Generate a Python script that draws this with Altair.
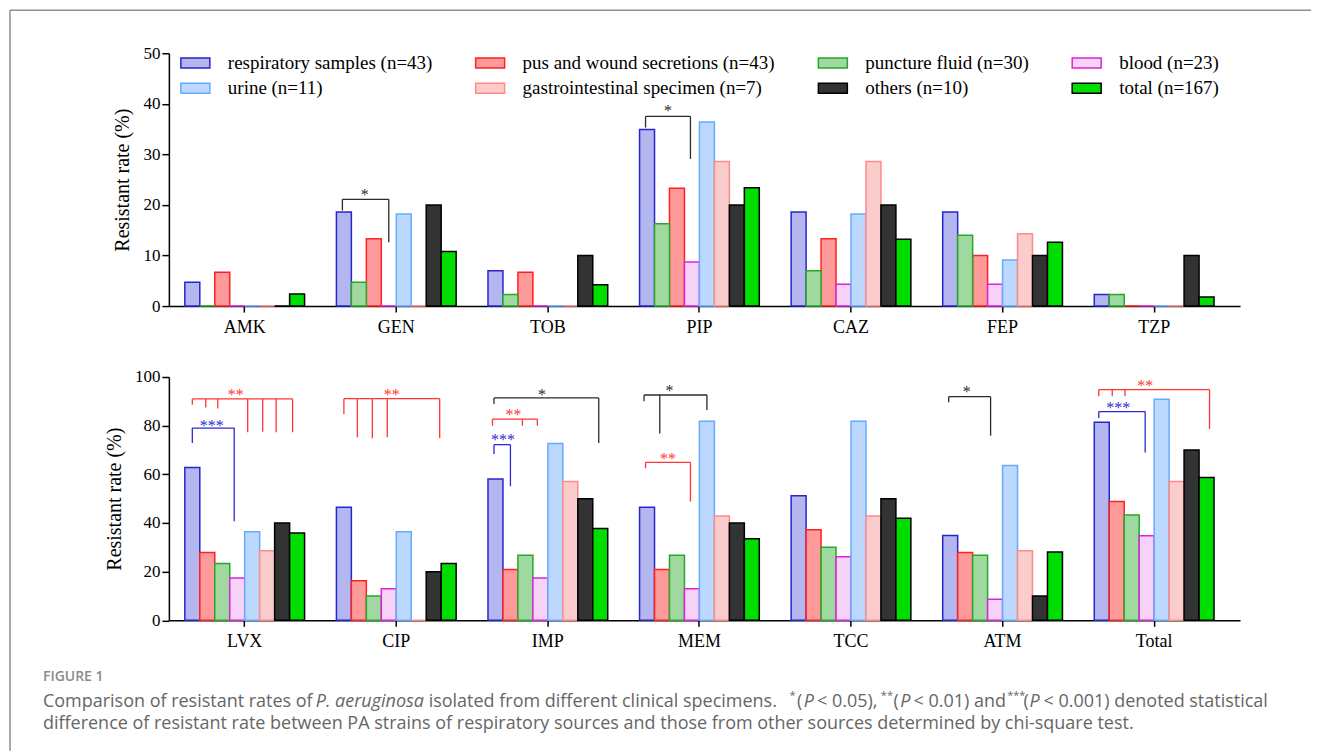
import altair as alt
import pandas as pd

# ---------------- data ----------------
SERIES = [
    "respiratory samples (n=43)",
    "pus and wound secretions (n=43)",
    "puncture fluid (n=30)",
    "blood (n=23)",
    "urine (n=11)",
    "gastrointestinal specimen (n=7)",
    "others (n=10)",
    "total (n=167)",
]
FILLS = ["#b3b6ef", "#ff9a9a", "#9fd99f", "#f6d3f6", "#bcd8ff", "#fbcccc", "#333333", "#00dd00"]
STROKES = ["#2626cf", "#ff2020", "#28a828", "#dd22dd", "#66aaff", "#ff8a8a", "#000000", "#000000"]

# legend entries are filled column by column (2 rows x 4 columns)
LEGEND_ORDER = [SERIES[0], SERIES[4], SERIES[1], SERIES[5], SERIES[2], SERIES[6], SERIES[3], SERIES[7]]

TOP_CATS = ["AMK", "GEN", "TOB", "PIP", "CAZ", "FEP", "TZP"]
BOT_CATS = ["LVX", "CIP", "IMP", "MEM", "TCC", "ATM", "Total"]

# bar order inside each group, as drawn
TOP_ORDER = [SERIES[0], SERIES[2], SERIES[1], SERIES[3], SERIES[4], SERIES[5], SERIES[6], SERIES[7]]
BOT_ORDER = SERIES

top_resp = [4.7, 18.6, 7.0, 34.9, 18.6, 18.6, 2.3]
top_pus = [6.7, 13.3, 6.7, 23.3, 13.3, 10.0, 0.0]
top_punct = [0.0, 4.7, 2.3, 16.3, 7.0, 14.0, 2.3]
top_blood = [0.0, 0.0, 0.0, 8.7, 4.3, 4.3, 0.0]
top_urine = [0.0, 18.2, 0.0, 36.4, 18.2, 9.1, 0.0]
top_gi = [0.0, 0.0, 0.0, 28.6, 28.6, 14.3, 0.0]
top_others = [0.0, 20.0, 10.0, 20.0, 20.0, 10.0, 10.0]
top_total = [2.4, 10.8, 4.2, 23.4, 13.2, 12.6, 1.8]

bot_resp = [62.8, 46.5, 58.1, 46.5, 51.2, 34.9, 81.4]
bot_pus = [27.9, 16.3, 20.9, 20.9, 37.2, 27.9, 48.8]
bot_punct = [23.3, 10.0, 26.7, 26.7, 30.0, 26.7, 43.3]
bot_blood = [17.4, 13.0, 17.4, 13.0, 26.1, 8.7, 34.8]
bot_urine = [36.4, 36.4, 72.7, 81.8, 81.8, 63.6, 90.9]
bot_gi = [28.6, 0.0, 57.1, 42.9, 42.9, 28.6, 57.1]
bot_others = [40.0, 20.0, 50.0, 40.0, 50.0, 10.0, 70.0]
bot_total = [35.9, 23.4, 37.7, 33.5, 41.9, 28.1, 58.7]

TOP_VALUES = [top_resp, top_pus, top_punct, top_blood, top_urine, top_gi, top_others, top_total]
BOT_VALUES = [bot_resp, bot_pus, bot_punct, bot_blood, bot_urine, bot_gi, bot_others, bot_total]

BLACK, RED, BLUE = "#2b2b2b", "#ff3535", "#2a2ad6"
# significance brackets: category, colour, stars, bracket level, leg slots (0-8 within group),
# leg end values, star slot, star level
TOP_BRACKETS = [
    ("GEN", BLACK, "*", 21.1, [0.4, 3.5], [18.9, 12.6], 1.9, 22.6),
    ("PIP", BLACK, "*", 37.5, [0.4, 3.4], [35.3, 29.1], 1.9, 39.1),
]
BOT_BRACKETS = [
    ("LVX", RED, "**", 91.0, [0.5, 1.4, 2.2, 4.2, 5.2, 6.1, 7.2], [88.6, 87.5, 87.1, 77.3, 77.5, 77.3, 77.3], 3.4, 93.7),
    ("LVX", BLUE, "***", 79.0, [0.5, 3.3], [72.9, 40.7], 1.8, 81.1),
    ("CIP", RED, "**", 91.1, [0.5, 1.4, 2.4, 3.4, 6.9], [84.8, 75.2, 74.8, 75.2, 74.8], 3.7, 94.0),
    ("IMP", BLACK, "*", 91.4, [0.4, 7.4], [88.9, 72.9], 3.6, 94.0),
    ("IMP", RED, "**", 82.7, [0.3, 2.3, 3.3], [80.0, 80.0, 80.0], 1.7, 85.8),
    ("IMP", BLUE, "***", 72.2, [0.4, 1.5], [68.4, 55.1], 1.0, 75.5),
    ("MEM", BLACK, "*", 92.6, [0.3, 1.35, 4.5], [90.0, 76.8, 86.4], 2.0, 95.3),
    ("MEM", RED, "**", 64.9, [0.4, 3.4], [62.5, 48.8], 1.9, 67.7),
    ("ATM", BLACK, "*", 91.9, [0.4, 3.2], [89.6, 75.9], 1.6, 95.0),
    ("Total", RED, "**", 94.8, [0.3, 1.2, 2.05, 7.7], [92.1, 92.1, 92.1, 78.6], 3.4, 97.5),
    ("Total", BLUE, "***", 85.8, [0.3, 3.4], [83.2, 69.0], 1.6, 88.5),
]

CAPTION_LINE2 = ("difference of resistant rate between PA strains of respiratory sources and those "
                 "from other sources determined by chi-square test.")

# ---------------- helpers ----------------
SERIF = "Liberation Serif"
SANS = "Open Sans"
PW = 1072


def bars_df(cats, values):
    rows = []
    for s, vals in zip(SERIES, values):
        for c, v in zip(cats, vals):
            rows.append({"cat": c, "series": s, "value": v})
    return pd.DataFrame(rows)


def seg_df(brackets):
    segs, stars = [], []
    for k, (cat, col, st, level, legs, ends, sx, sy) in enumerate(brackets):
        segs.append({"cat": cat, "color": col, "seg": f"{k}h", "pos": min(legs), "value": level, "ord": 0})
        segs.append({"cat": cat, "color": col, "seg": f"{k}h", "pos": max(legs), "value": level, "ord": 1})
        for j, (p, e) in enumerate(zip(legs, ends)):
            segs.append({"cat": cat, "color": col, "seg": f"{k}l{j}", "pos": p, "value": level, "ord": 0})
            segs.append({"cat": cat, "color": col, "seg": f"{k}l{j}", "pos": p, "value": e, "ord": 1})
        stars.append({"cat": cat, "color": col, "stars": st, "pos": sx, "value": sy})
    return pd.DataFrame(segs), pd.DataFrame(stars)


LEGEND = alt.Legend(
    title=None, orient="none", legendX=17, legendY=0, columns=4, columnPadding=40,
    rowPadding=5.5, padding=0, symbolType="M-2,-0.7H2V0.7H-2Z", symbolSize=210,
    symbolStrokeWidth=1.5, labelFont=SERIF, labelFontSize=19, labelColor="black",
    labelOffset=23, labelLimit=400,
)

FILL_MAP = dict(zip(SERIES, FILLS))
STROKE_MAP = dict(zip(SERIES, STROKES))


def panel(cats, values, order, brackets, ymax, ystep, height, show_legend, extra=()):
    xenc = alt.X("cat:N", sort=cats,
                 scale=alt.Scale(paddingInner=0.21, paddingOuter=0.1385, align=0.38),
                 axis=alt.Axis(title=None, labelAngle=0, labelFont=SERIF, labelFontSize=18,
                               labelPadding=6, tickSize=6))
    yenc = alt.Y("value:Q", scale=alt.Scale(domain=[0, ymax], nice=False),
                 axis=alt.Axis(title="Resistant rate (%)", values=list(range(0, ymax + 1, ystep)),
                               labelFont=SERIF, labelFontSize=17, labelPadding=2, tickSize=7,
                               titleFont=SERIF, titleFontSize=20, titleFontWeight="normal",
                               titlePadding=10))
    leg = LEGEND if show_legend else None
    bars = alt.Chart(bars_df(cats, values)).mark_bar(strokeWidth=1.5).encode(
        x=xenc,
        xOffset=alt.XOffset("series:N", sort=order, scale=alt.Scale(paddingInner=0, paddingOuter=0)),
        y=yenc,
        color=alt.Color("series:N", scale=alt.Scale(domain=LEGEND_ORDER,
                                                    range=[FILL_MAP[s] for s in LEGEND_ORDER]),
                        legend=leg),
        stroke=alt.Stroke("series:N", scale=alt.Scale(domain=LEGEND_ORDER,
                                                      range=[STROKE_MAP[s] for s in LEGEND_ORDER]),
                          legend=leg),
    )
    segs, stars = seg_df(brackets)
    layers = [bars]
    offq = alt.XOffset("pos:Q", scale=alt.Scale(domain=[0, 8], nice=False, zero=False))
    for col in segs["color"].unique():
        sd = segs[segs["color"] == col]
        td = stars[stars["color"] == col]
        layers.append(
            alt.Chart(sd).mark_line(color=col, strokeWidth=1.3).encode(
                x=xenc, xOffset=offq, y=yenc, detail="seg:N", order="ord:Q",
            )
        )
        layers.append(
            alt.Chart(td).mark_text(color=col, font=SERIF, fontSize=16, align="center",
                                    baseline="alphabetic", dy=8).encode(
                x=xenc, xOffset=offq, y=yenc, text="stars:N",
            )
        )
    layers.extend(extra)
    return alt.layer(*layers).resolve_scale(xOffset="independent").properties(width=PW, height=height)


ONE = pd.DataFrame({"k": [1]})


def txt(s, x, y, size=18, style="normal", weight="normal", color="#666666"):
    return alt.Chart(ONE).mark_text(text=s, align="left", baseline="middle", font=SANS,
                                    fontSize=size, fontStyle=style, fontWeight=weight,
                                    color=color).encode(x=alt.value(x), y=alt.value(y))


FRAME = "#8e8e8e"
frame_top = alt.Chart(ONE).mark_rule(color=FRAME, strokeWidth=1.5).encode(
    x=alt.value(-159), x2=alt.value(1143), y=alt.value(-367))
frame_left = alt.Chart(ONE).mark_rule(color=FRAME, strokeWidth=1.5).encode(
    x=alt.value(-159), y=alt.value(-367), y2=alt.value(374))

L1, L2, SUP = 325.7, 347.5, 319.5
caption = [
    txt("FIGURE 1", -126, 300.7, size=14, weight=600, color="#8a8a8a"),
    txt("Comparison of resistant rates of", -126, L1),
    txt("P. aeruginosa", 147, L1, style="italic"),
    txt("isolated from different clinical specimens.", 260, L1),
    txt("*", 621, SUP, size=11),
    txt("(", 628.5, L1),
    txt("P", 635.3, L1, style="italic"),
    txt("< 0.05),", 648.7, L1),
    txt("**", 712.5, SUP, size=11),
    txt("(", 725.3, L1),
    txt("P", 732, L1, style="italic"),
    txt("< 0.01) and", 745.3, L1),
    txt("***", 839, SUP, size=11),
    txt("(", 855.3, L1),
    txt("P", 861.3, L1, style="italic"),
    txt("< 0.001) denoted statistical", 875.3, L1),
    txt(CAPTION_LINE2, -126, L2),
]

top = panel(TOP_CATS, TOP_VALUES, TOP_ORDER, TOP_BRACKETS, 50, 10, 253, True)
bottom = panel(BOT_CATS, BOT_VALUES, BOT_ORDER, BOT_BRACKETS, 100, 20, 243.5, False,
               extra=[frame_top, frame_left] + caption)

chart = alt.vconcat(top, bottom, spacing=71, bounds="flush").resolve_scale(
    x="independent", y="independent", color="independent", stroke="independent",
    xOffset="independent",
).properties(
    padding={"left": 1, "top": 1, "right": 0, "bottom": 0}
).configure_view(stroke=None).configure_axis(
    domainColor="black", domainWidth=1.5, tickColor="black", tickWidth=1.5,
    labelColor="black", titleColor="black", grid=False,
)

chart.save("out.html", embed_options={"renderer": "svg", "actions": False})
